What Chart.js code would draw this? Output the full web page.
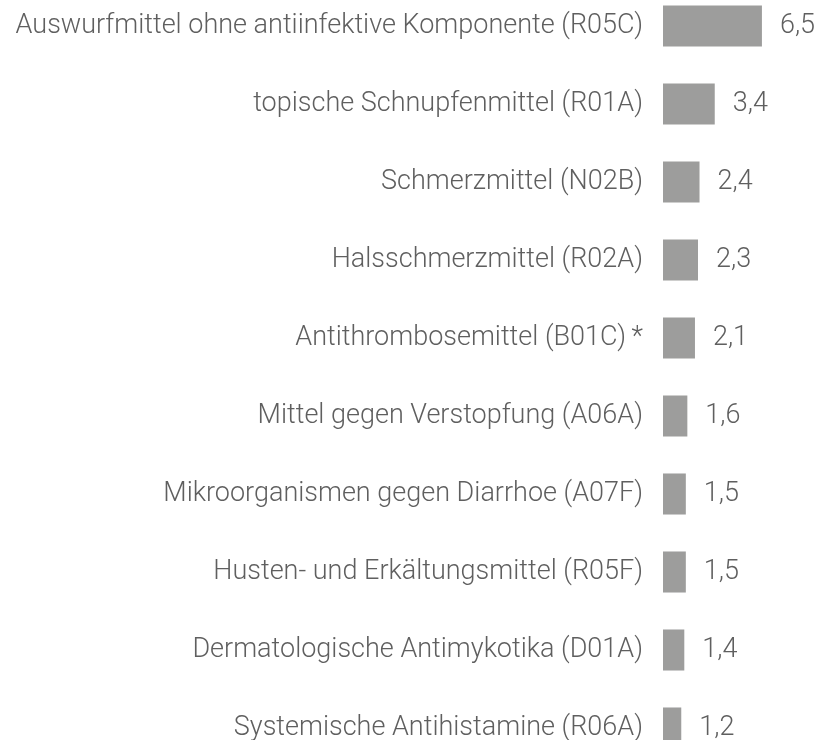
<!DOCTYPE html>
<html>
<head>
<meta charset="utf-8">
<script src="https://cdn.jsdelivr.net/npm/chart.js@4/dist/chart.umd.min.js"></script>
<style>
  html, body { margin: 0; padding: 0; background: #fff; overflow: hidden; }
  #wrap { position: absolute; left: 0; top: -13px; width: 819px; height: 780px; }
</style>
</head>
<body>
<div id="wrap"><canvas id="chart"></canvas></div>
<script>
const categories = [
  'Auswurfmittel ohne antiinfektive Komponente (R05C)',
  'topische Schnupfenmittel (R01A)',
  'Schmerzmittel (N02B)',
  'Halsschmerzmittel (R02A)',
  'Antithrombosemittel (B01C)\u2009*',
  'Mittel gegen Verstopfung (A06A)',
  'Mikroorganismen gegen Diarrhoe (A07F)',
  'Husten- und Erkältungsmittel (R05F)',
  'Dermatologische Antimykotika (D01A)',
  'Systemische Antihistamine (R06A)'
];
const values = [6.5, 3.4, 2.4, 2.3, 2.1, 1.6, 1.5, 1.5, 1.4, 1.2];

const fontFamily = 'Roboto, "Liberation Sans", sans-serif';

// value labels to the right of each bar
const valueLabels = {
  id: 'valueLabels',
  afterDatasetsDraw(chart) {
    const ctx = chart.ctx;
    const meta = chart.getDatasetMeta(0);
    ctx.save();
    ctx.font = '300 27px ' + fontFamily;
    ctx.fillStyle = '#5f5f5f';
    ctx.textAlign = 'left';
    ctx.textBaseline = 'middle';
    meta.data.forEach((bar, i) => {
      ctx.fillText(values[i].toFixed(1).replace('.', ','), bar.x + 18, bar.y);
    });
    ctx.restore();
  }
};

new Chart(document.getElementById('chart'), {
  type: 'bar',
  data: {
    labels: categories,
    datasets: [{
      data: values,
      backgroundColor: '#9d9d9c',
      borderWidth: 0,
      barPercentage: 0.526,
      categoryPercentage: 1
    }]
  },
  options: {
    indexAxis: 'y',
    responsive: true,
    maintainAspectRatio: false,
    animation: false,
    layout: { padding: 0 },
    plugins: {
      legend: { display: false },
      tooltip: { enabled: false }
    },
    scales: {
      x: {
        display: false,
        min: 0,
        max: 10.25
      },
      y: {
        grid: { display: false, drawTicks: false },
        border: { display: false },
        ticks: {
          padding: 20,
          color: '#5f5f5f',
          font: { family: fontFamily, size: 27, weight: '300' }
        },
        afterFit(scale) {
          scale.width = 663;
          scale.paddingTop = 0;
          scale.paddingBottom = 0;
        }
      }
    }
  },
  plugins: [valueLabels]
});
</script>
</body>
</html>
